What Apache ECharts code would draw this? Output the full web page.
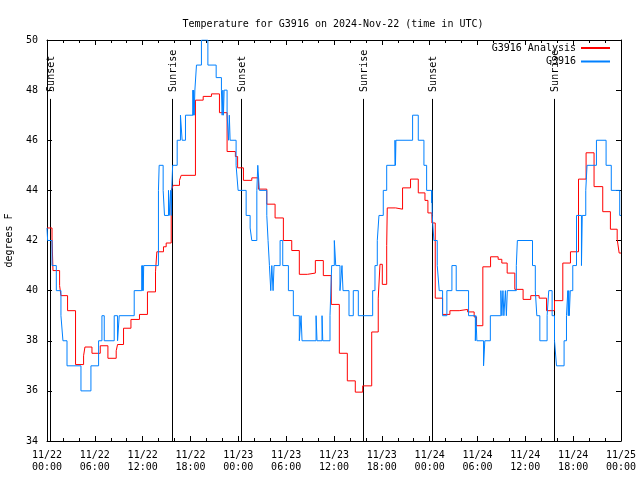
<!DOCTYPE html>
<html>
<head>
<meta charset="utf-8">
<script src="https://cdn.jsdelivr.net/npm/echarts@6/dist/echarts.min.js"></script>
<style>html,body{margin:0;padding:0;background:#fff}#c{width:640px;height:480px}</style>
</head>
<body>
<div id="c"></div>
<script>
// Hours since 2024-11-22 00:00 UTC
const tickLabels = ['11/22\n00:00','11/22\n06:00','11/22\n12:00','11/22\n18:00','11/23\n00:00','11/23\n06:00','11/23\n12:00','11/23\n18:00','11/24\n00:00','11/24\n06:00','11/24\n12:00','11/24\n18:00','11/25\n00:00'];

const analysisHours = [0,0.63,0.75,1.58,1.75,2.58,3.58,4.59,4.76,5.64,6.68,7.64,8.68,8.85,9.6,10.53,11.6,12.6,13.61,13.78,14.61,14.95,15.58,15.83,16.62,16.83,18.62,19.59,20.63,21.63,22.59,23.63,23.91,24.64,25.69,26.52,27.57,28.61,29.65,30.7,31.65,32.66,33.66,34.66,35.66,36.67,37.67,38.67,39.6,40.73,41.55,41.77,42.06,42.61,42.68,43.73,44.6,45.6,46.57,47.41,47.78,48.28,48.7,49.62,50.54,51.7,52.76,53.58,53.88,54.67,55.64,56.59,57.05,57.72,58.68,59.72,60.68,61.73,62.66,63.66,64.7,65.66,66.67,67.62,68.62,69.71,70.67,71.52,71.77,72];
const analysisTemps = [42.5,42.1,40.8,40.2,39.8,39.2,37.05,37.4,37.75,37.5,37.8,37.3,37.6,37.85,38.5,38.85,39.05,39.95,40.75,41.55,41.75,41.9,44.0,44.2,44.4,44.6,47.6,47.75,47.85,47.1,45.55,45.35,44.9,44.4,44.5,44.05,43.45,42.9,42.0,41.6,40.65,40.7,41.2,40.6,39.45,37.5,36.4,35.95,36.2,38.35,39.7,41.05,40.25,41.8,43.3,43.25,44.1,44.45,43.9,43.6,43.1,42.7,39.7,39.05,39.2,39.25,39.15,38.95,38.6,40.95,41.35,41.25,41.1,40.7,40.05,39.65,39.8,39.7,39.2,39.6,41.1,41.55,44.45,45.5,44.15,43.15,42.45,42.05,41.5,41.5];

const obsHours = [0,0.08,0.63,1.17,1.75,2.0,2.51,4.26,5.51,6.47,
6.89,7.18,8.43,8.85,9.06,10.94,11.9,11.94,12.0,12.07,
12.13,13.98,14.07,14.57,14.74,15.24,15.33,15.51,15.58,15.64,
15.76,16.33,16.74,16.95,17.37,18.3,18.33,18.4,18.46,18.55,
18.75,19.37,20.18,21.22,21.88,21.97,22.06,22.13,22.22,22.59,
22.78,22.87,22.97,23.72,23.97,24.98,25.48,25.69,26.32,26.44,
26.64,27.57,27.73,27.9,28.07,28.2,28.36,28.48,29.24,29.57,
30.28,30.9,31.65,31.87,31.99,33.75,33.87,34.5,34.59,35.5,
35.71,36.04,36.22,36.75,37.0,37.13,37.88,38.42,39.05,40.85,
41.14,41.43,41.64,42.18,42.61,43.65,43.71,43.77,45.86,46.57,
47.28,47.62,48.24,48.28,48.32,48.53,48.95,49.2,49.62,50.16,
50.79,51.33,52.88,53.73,53.8,53.92,54.76,54.92,55.61,56.93,
57.06,57.19,57.31,57.5,57.62,57.74,58.87,59.0,60.9,61.25,
61.44,61.82,62.73,62.94,63.36,63.66,63.91,64.86,65.16,65.33,
65.39,65.45,65.51,65.64,65.95,66.42,67.04,67.14,67.58,67.74,
68.92,70.13,70.78,71.84,72];
const obsTemps = [42.5,42,41,40,39,38,37,36,37,38,
39,38,39,38,39,40,41,40,41,40,
41,44,45,44,43,44,43,44,43,44,
45,46,47,46,47,48,47,48,47,48,
49,50,49,48.5,48,47,48,47,48,47,
46,47,46,45,44,43,42.5,42,44,45,
44,43,42,41,40,41,40,41,42,41,
40,39,38,39,38,39,38,39,38,39,
41,42,41,40,41,40,39,40,39,40,
41,42,43,44,45,46,45,46,47,46,
45,44,43.5,44,43,42,41,40,39,40,
41,40,39,38,39,38,37,38,39,40,
39,40,39,40,39,40,41,42,41,40,
39,38,39,40,39,38,37,38,39,40,
39,40,39,40,41,43,41,43,44,45,
46,45,44,43,43];

const sunHours = [0.4, 15.64, 24.31, 39.6, 48.32, 63.61];
const sunLabels = ['Sunset','Sunrise','Sunset','Sunrise','Sunset','Sunrise'];

const FONT = 'DejaVu Sans Mono';
const SUN_LINE_TOP = 47.65;

const zip = (a, b) => a.map((v, i) => [v, b[i]]);

const chart = echarts.init(document.getElementById('c'), null, {renderer: 'canvas'});

const baseX = {
  type: 'value', min: 0, max: 72, interval: 6,
  axisLine: {show: true, onZero: false, lineStyle: {color: '#000', width: 1}},
  axisTick: {show: true, inside: true, length: 5, lineStyle: {color: '#000'}},
  minorTick: {show: true, splitNumber: 3, length: 3, lineStyle: {color: '#000'}},
  splitLine: {show: false}, minorSplitLine: {show: false}
};
const baseY = {
  type: 'value', min: 34, max: 50, interval: 2,
  axisLine: {show: true, onZero: false, lineStyle: {color: '#000', width: 1}},
  axisTick: {show: true, inside: true, length: 5, lineStyle: {color: '#000'}},
  splitLine: {show: false}
};

const legendText = {fontFamily: FONT, fontSize: 10, color: '#000'};

chart.setOption({
  animation: false,
  backgroundColor: '#fff',
  title: {
    text: 'Temperature for G3916 on 2024-Nov-22 (time in UTC)',
    left: 328, top: 14, textAlign: 'center',
    textStyle: {fontFamily: FONT, fontSize: 10, fontWeight: 'normal', color: '#000'}
  },
  grid: {left: 47, right: 19, top: 40, bottom: 39, containLabel: false, outerBoundsMode: 'none'},
  legend: [
    {data: ['G3916 Analysis'], right: 30, top: 43, align: 'right', padding: 0,
     itemWidth: 29, itemHeight: 2, icon: 'rect', textStyle: legendText},
    {data: ['G3916'], right: 30, top: 56.5, align: 'right', padding: 0,
     itemWidth: 29, itemHeight: 2, icon: 'rect', textStyle: legendText}
  ],
  xAxis: [
    Object.assign({}, baseX, {
      position: 'bottom',
      axisLabel: {show: true, margin: 8, fontFamily: FONT, fontSize: 10, lineHeight: 12, color: '#000',
        formatter: v => tickLabels[Math.round(v / 6)]}
    }),
    Object.assign({}, baseX, {position: 'top', axisLabel: {show: false}})
  ],
  yAxis: [
    Object.assign({}, baseY, {
      position: 'left',
      name: 'degrees F', nameLocation: 'middle', nameGap: 33, nameRotate: 90,
      nameTextStyle: {fontFamily: FONT, fontSize: 10, color: '#000'},
      axisLabel: {show: true, margin: 9, fontFamily: FONT, fontSize: 10, color: '#000'}
    }),
    Object.assign({}, baseY, {position: 'right', axisLabel: {show: false}})
  ],
  series: [
    {
      name: 'G3916 Analysis', type: 'line', step: 'end',
      data: zip(analysisHours, analysisTemps),
      symbol: 'none', showSymbol: false,
      lineStyle: {width: 1, color: '#ff0000'}, itemStyle: {color: '#ff0000'},
      xAxisIndex: 0, yAxisIndex: 0
    },
    {
      name: 'G3916', type: 'line', step: 'end',
      data: zip(obsHours, obsTemps),
      symbol: 'none', showSymbol: false,
      lineStyle: {width: 1, color: '#0080ff'}, itemStyle: {color: '#0080ff'},
      xAxisIndex: 0, yAxisIndex: 0
    },
    {
      type: 'custom', name: 'sun', xAxisIndex: 0, yAxisIndex: 0,
      data: sunHours.map(h => [h, 34]),
      encode: {x: 0, y: 1},
      clip: false, silent: true,
      renderItem: (params, api) => {
        const h = api.value(0);
        const b = api.coord([h, 34]);
        const t = api.coord([h, SUN_LINE_TOP]);
        const x = Math.round(b[0]) + 0.5;
        return {
          type: 'group',
          children: [
            {type: 'line', shape: {x1: x, y1: b[1], x2: x, y2: t[1]},
             style: {stroke: '#000', lineWidth: 1}},
            {type: 'text', x: x + 1, y: t[1] - 7, rotation: Math.PI / 2,
             style: {text: sunLabels[params.dataIndex], font: '10px "' + FONT + '"',
                     fill: '#000', align: 'left', verticalAlign: 'middle'}}
          ]
        };
      }
    }
  ]
});
</script>
</body>
</html>
